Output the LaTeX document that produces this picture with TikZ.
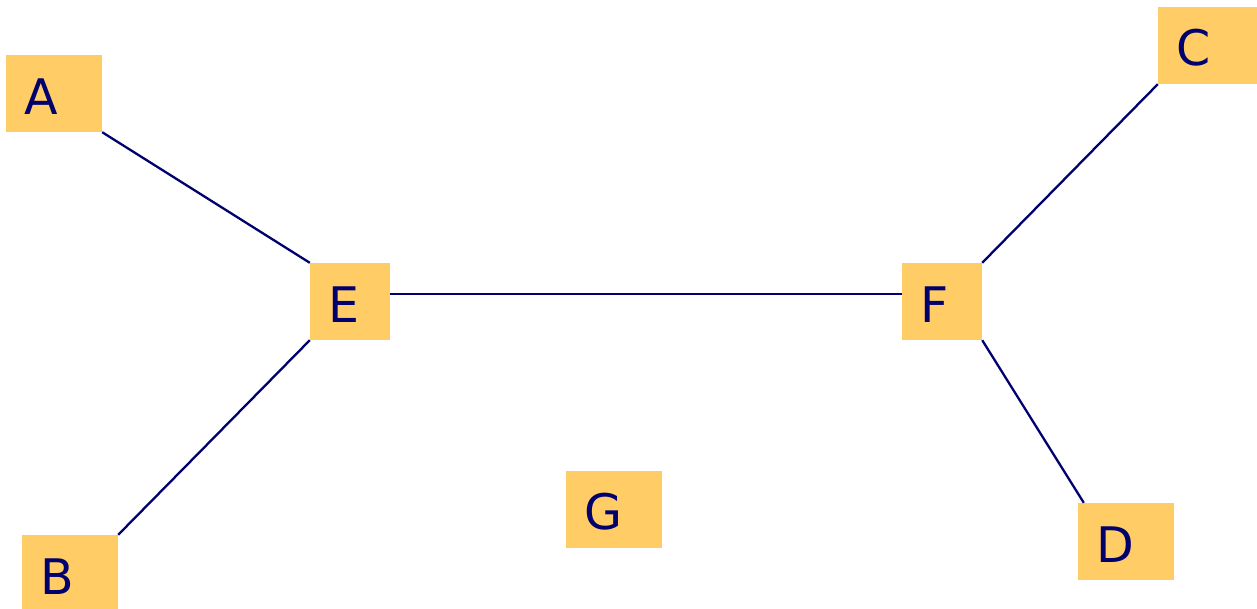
\documentclass[tikz,border=0pt]{standalone}
\usepackage{fontspec}
\setmainfont{DejaVu Sans}
\definecolor{boxfill}{HTML}{FFCC66}
\definecolor{ink}{RGB}{0,0,110}
\begin{document}
\begin{tikzpicture}[x=1pt,y=-1pt,
  vertex/.style={rectangle, fill=boxfill, text=ink, inner xsep=18pt, inner ysep=0pt,
    minimum height=77pt, text width=60pt, text height=41pt, align=left,
    font=\fontsize{49}{58}\selectfont},
  inner/.style={vertex, text width=44pt},
  edge/.style={draw=ink, line width=2.3pt}]
\clip (0,0) rectangle (1257,608);
\fill[white] (0,0) rectangle (1257,608);
% leaf and inner vertices
\node[vertex] (A) at (54,93.5) {A};
\node[vertex] (B) at (70,573.5) {B};
\node[vertex, text width=64pt] (C) at (1208,45.5) {C};
\node[vertex] (D) at (1126,541.5) {D};
\node[inner] (E) at (350,301.5) {E};
\node[inner] (F) at (942,301.5) {F};
\node[vertex] (G) at (614,509.5) {G};
% tree edges
\draw[edge] (A.south east) -- (E.north west);
\draw[edge] (B.north east) -- (E.south west);
\draw[edge] ([yshift=7.5pt]E.east) -- ([yshift=7.5pt]F.west);
\draw[edge] (C.south west) -- (F.north east);
\draw[edge] (F.south east) -- ([xshift=6pt]D.north west);
\end{tikzpicture}
\end{document}
